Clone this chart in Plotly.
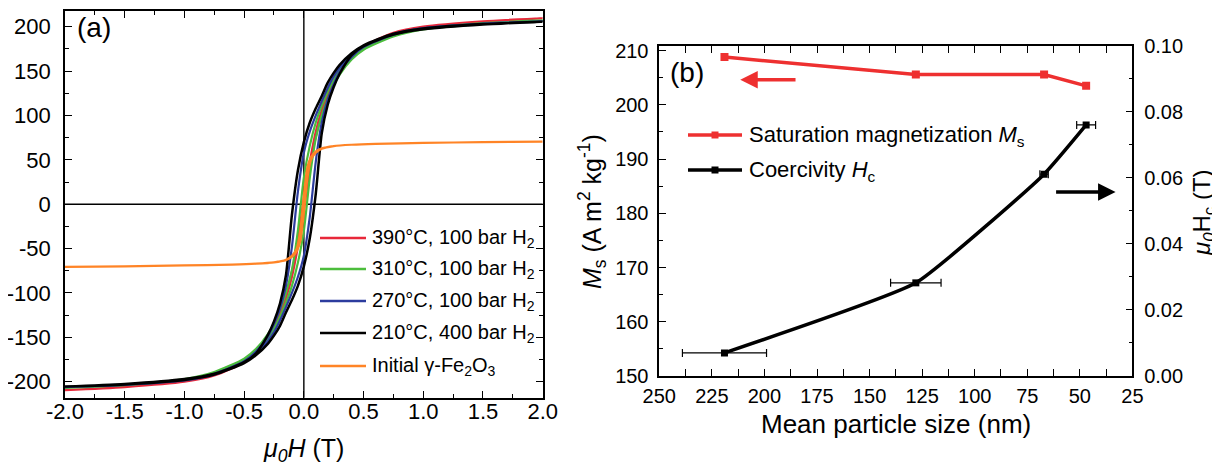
import plotly.graph_objects as go

# ---------------- Panel (a): hysteresis loops ----------------
H_desc = [2.0, 1.5, 1.0, 0.75, 0.5, 0.4, 0.3, 0.25, 0.2, 0.15, 0.1, 0.05, 0.0,
          -0.05, -0.1, -0.15, -0.2, -0.25, -0.3, -0.4, -0.5, -0.75, -1.0, -1.5, -2.0]
H_asc = [-2.0, -1.5, -1.0, -0.75, -0.5, -0.4, -0.3, -0.25, -0.2, -0.15, -0.1, -0.05, 0.0,
         0.05, 0.1, 0.15, 0.2, 0.25, 0.3, 0.4, 0.5, 0.75, 1.0, 1.5, 2.0]

M390_desc = [209.5, 206, 200, 193, 178, 167, 151, 139, 125, 106, 82, 48, 7,
             -40, -76, -101, -121, -136, -148, -165, -176.5, -192, -199.5, -205.5, -209.5]
M390_asc = [-209.5, -206, -200, -193, -178, -167, -151, -139, -125, -106, -82, -48, -7,
            40, 76, 101, 121, 136, 148, 165, 176.5, 192, 199.5, 205.5, 209.5]

M310_desc = [207, 204, 197.5, 190, 176, 166, 151, 140, 127, 111, 92, 66, 30,
             -30, -74, -100, -119, -134, -146, -163, -174, -189, -197, -203.5, -207]
M310_asc = [-207, -204, -197.5, -190, -176, -166, -151, -140, -127, -111, -92, -66, -30,
            30, 74, 100, 119, 134, 146, 163, 174, 189, 197, 203.5, 207]

M270_desc = [206, 203.5, 198.5, 192, 178, 168, 154, 144, 131, 116, 100, 82, 58,
             14, -48, -92, -118, -135, -149, -166, -177, -191, -198, -203, -206]
M270_asc = [-206, -203.5, -198.5, -192, -178, -168, -154, -144, -131, -116, -100, -82, -58,
            -14, 48, 92, 118, 135, 149, 166, 177, 191, 198, 203, 206]

M210_desc = [205.5, 203, 198, 192, 179, 170, 157, 148, 137, 122, 108, 92, 70,
             38, -12, -80, -112, -132, -147, -168, -178, -191, -197, -202.5, -205.5]
M210_asc = [-205.5, -203, -198, -192, -179, -170, -157, -148, -137, -122, -108, -92, -70,
            -38, 12, 80, 112, 132, 147, 168, 178, 191, 197, 202.5, 205.5]

Hi_desc = [2.0, 1.5, 1.0, 0.6, 0.4, 0.25, 0.15, 0.1, 0.06, 0.03, 0.01, 0.0,
           -0.01, -0.03, -0.06, -0.1, -0.15, -0.25, -0.4, -0.6, -1.0, -1.5, -2.0]
Hi_asc = [-2.0, -1.5, -1.0, -0.6, -0.4, -0.25, -0.15, -0.1, -0.06, -0.03, -0.01, 0.0,
          0.01, 0.03, 0.06, 0.1, 0.15, 0.25, 0.4, 0.6, 1.0, 1.5, 2.0]
Mi_desc = [70.5, 70, 69, 68, 67, 65.5, 63, 59.5, 53, 42, 22, 10,
           -4, -30, -50, -58, -62.5, -65.5, -67, -68, -69, -70, -70.5]
Mi_asc = [-70.5, -70, -69, -68, -67, -65.5, -63, -59.5, -53, -42, -22, -10,
          4, 30, 50, 58, 62.5, 65.5, 67, 68, 69, 70, 70.5]

loop_names = ["390°C, 100 bar H<sub>2</sub>", "310°C, 100 bar H<sub>2</sub>",
              "270°C, 100 bar H<sub>2</sub>", "210°C, 400 bar H<sub>2</sub>",
              "Initial γ-Fe<sub>2</sub>O<sub>3</sub>"]
loop_colors = ["#e8283a", "#4cbd3c", "#2c3c9e", "#000000", "#ff8426"]

a_xticks = [-2.0, -1.5, -1.0, -0.5, 0.0, 0.5, 1.0, 1.5, 2.0]
a_xticktext = ["-2.0", "-1.5", "-1.0", "-0.5", "0.0", "0.5", "1.0", "1.5", "2.0"]
a_yticks = [-200, -150, -100, -50, 0, 50, 100, 150, 200]
a_yticktext = ["-200", "-150", "-100", "-50", "0", "50", "100", "150", "200"]

# ---------------- Panel (b): Ms and Hc vs particle size ----------------
size_nm = [219, 128, 67, 47]
Ms = [208.8, 205.6, 205.6, 203.5]
Hc = [0.0070, 0.0282, 0.0611, 0.0760]
size_err = [20, 12, 2, 4.5]
b_names = ["Saturation magnetization <i>M</i><sub>s</sub>", "Coercivity <i>H</i><sub>c</sub>"]
b_colors = ["#ee3030", "#000000"]

FONT = "Liberation Sans, Arial, sans-serif"
# the page puts the figure 8 px from the top-left corner
OFF = 8
W, Hh = 1220 - OFF, 468 - OFF


def px(x):
    return (x - OFF) / W


def py(y):
    return 1 - (y - OFF) / Hh


fig = go.Figure()

loops = [
    (H_desc + H_asc, M390_desc + M390_asc, 2.2),
    (H_desc + H_asc, M310_desc + M310_asc, 2.2),
    (H_desc + H_asc, M270_desc + M270_asc, 2.2),
    (H_desc + H_asc, M210_desc + M210_asc, 2.5),
    (Hi_desc + Hi_asc, Mi_desc + Mi_asc, 2.2),
]
for (hx, my, w), name, col in zip(loops, loop_names, loop_colors):
    fig.add_trace(go.Scatter(
        x=hx, y=my, mode="lines", name=name, showlegend=False,
        line=dict(color=col, width=w, shape="spline", smoothing=0.7),
        xaxis="x", yaxis="y",
    ))

fig.add_trace(go.Scatter(
    x=size_nm, y=Ms, mode="lines+markers", name=b_names[0], showlegend=False,
    line=dict(color=b_colors[0], width=3.5),
    marker=dict(symbol="square", size=8, color=b_colors[0]),
    xaxis="x2", yaxis="y2",
))
fig.add_trace(go.Scatter(
    x=size_nm, y=Hc, mode="lines+markers", name=b_names[1], showlegend=False,
    line=dict(color=b_colors[1], width=3.5, shape="spline", smoothing=0.4),
    marker=dict(symbol="square", size=7, color=b_colors[1]),
    error_x=dict(type="data", array=size_err, arrayminus=size_err,
                 color="#000000", thickness=1.2, width=4),
    xaxis="x2", yaxis="y3",
))

axis_common = dict(
    showline=True, linecolor="black", linewidth=1.6,
    ticks="inside", ticklen=7, tickwidth=1.4, tickcolor="black",
    showgrid=False, zeroline=False, automargin=False,
)
minor_common = dict(ticks="inside", ticklen=4, tickcolor="black", tickwidth=1.2)

fig.update_layout(
    width=W, height=Hh,
    margin=dict(l=0, r=0, t=0, b=0, autoexpand=False),
    paper_bgcolor="white", plot_bgcolor="white",
    font=dict(family=FONT, color="black", size=18),
    showlegend=False,
    xaxis=dict(
        **axis_common, mirror="allticks", domain=[px(65), px(542.7)], range=[-2.0, 2.0],
        tickvals=a_xticks, ticktext=a_xticktext,
        minor=dict(dtick=0.25, **minor_common),
        tickfont=dict(size=22), ticklabelstandoff=-7, anchor="y",
    ),
    yaxis=dict(
        **axis_common, mirror="allticks", domain=[py(397.7), py(10.7)], range=[-218, 218],
        tickvals=a_yticks, ticktext=a_yticktext,
        minor=dict(dtick=25, **minor_common),
        tickfont=dict(size=22), ticklabelstandoff=8, anchor="x",
    ),
    xaxis2=dict(
        **axis_common, mirror="allticks", domain=[px(659.3), px(1132.4)], range=[250, 25],
        dtick=25, tick0=25,
        minor=dict(dtick=12.5, **minor_common),
        tickfont=dict(size=20), ticklabelstandoff=1, anchor="y2",
    ),
    yaxis2=dict(
        **axis_common, mirror=False,
        domain=[py(376), py(45.7)], range=[150, 210.9], dtick=10, tick0=150,
        minor=dict(dtick=5, **minor_common),
        tickfont=dict(size=20), ticklabelstandoff=5, anchor="x2",
    ),
    yaxis3=dict(
        **axis_common, mirror=False,
        overlaying="y2", side="right", anchor="x2",
        range=[0, 0.1], dtick=0.02, tickformat=".2f",
        minor=dict(dtick=0.01, **minor_common),
        tickfont=dict(size=20), ticklabelstandoff=6,
    ),
)

# zero lines in panel (a)
fig.add_shape(type="line", xref="x", yref="y domain", x0=0, x1=0, y0=0, y1=1,
              line=dict(color="black", width=1.4), layer="below")
fig.add_shape(type="line", xref="x domain", yref="y", x0=0, x1=1, y0=0, y1=0,
              line=dict(color="black", width=1.4), layer="below")

# ---- legend of panel (a), drawn as keys + text ----
a_rows = [238, 269, 301, 333, 366]
for name, col, ry in zip(loop_names, loop_colors, a_rows):
    fig.add_shape(type="line", xref="paper", yref="paper",
                  x0=px(320), x1=px(366), y0=py(ry), y1=py(ry),
                  line=dict(color=col, width=2.5))
    fig.add_annotation(text=name, xref="paper", yref="paper", x=px(370), y=py(ry),
                       xanchor="left", yanchor="middle", showarrow=False,
                       font=dict(size=20))

# ---- legend of panel (b) ----
b_rows = [135, 170]
for name, col, ry in zip(b_names, b_colors, b_rows):
    fig.add_shape(type="line", xref="paper", yref="paper",
                  x0=px(688), x1=px(742), y0=py(ry), y1=py(ry),
                  line=dict(color=col, width=3.5))
    fig.add_shape(type="rect", xref="paper", yref="paper", xsizemode="pixel", ysizemode="pixel",
                  xanchor=px(715), yanchor=py(ry), x0=-3.5, x1=3.5, y0=-3.5, y1=3.5,
                  line=dict(width=0), fillcolor=col)
    fig.add_annotation(text=name, xref="paper", yref="paper", x=px(747), y=py(ry + 1),
                       xanchor="left", yanchor="middle", showarrow=False,
                       font=dict(size=22))

# panel labels
fig.add_annotation(text="(a)", xref="paper", yref="paper", x=px(75), y=py(28),
                   xanchor="left", yanchor="middle", showarrow=False, font=dict(size=28))
fig.add_annotation(text="(b)", xref="paper", yref="paper", x=px(668), y=py(73),
                   xanchor="left", yanchor="middle", showarrow=False, font=dict(size=28))

# axis titles
fig.add_annotation(text="<i>μ<sub>0</sub>H</i> (T)", xref="paper", yref="paper",
                   x=px(303), y=py(450), xanchor="center", yanchor="middle",
                   showarrow=False, font=dict(size=25))
fig.add_annotation(text="Mean particle size (nm)", xref="paper", yref="paper",
                   x=px(896), y=py(424), xanchor="center", yanchor="middle",
                   showarrow=False, font=dict(size=26))
fig.add_annotation(text="<i>M</i><sub>s</sub> (A m<sup>2</sup> kg<sup>-1</sup>)",
                   xref="paper", yref="paper", x=px(592), y=py(212), textangle=-90,
                   xanchor="center", yanchor="middle", showarrow=False, font=dict(size=25))
fig.add_annotation(text="<i>μ<sub>0</sub></i>H<sub>c</sub> (T)", xref="paper", yref="paper",
                   x=px(1203), y=py(213), textangle=-90, showarrow=False,
                   xanchor="center", yanchor="middle", font=dict(size=24))

# direction arrows in panel (b)
fig.add_annotation(x=211.5, y=204.6, ax=184.5, ay=204.6, xref="x2", yref="y2",
                   axref="x2", ayref="y2", text="", showarrow=True,
                   arrowhead=2, arrowsize=1.0, arrowwidth=3.5, arrowcolor=b_colors[0])
fig.add_annotation(x=33, y=0.0557, ax=62, ay=0.0557, xref="x2", yref="y3",
                   axref="x2", ayref="y3", text="", showarrow=True,
                   arrowhead=2, arrowsize=1.0, arrowwidth=3.5, arrowcolor=b_colors[1])

fig.write_html("out.html")
